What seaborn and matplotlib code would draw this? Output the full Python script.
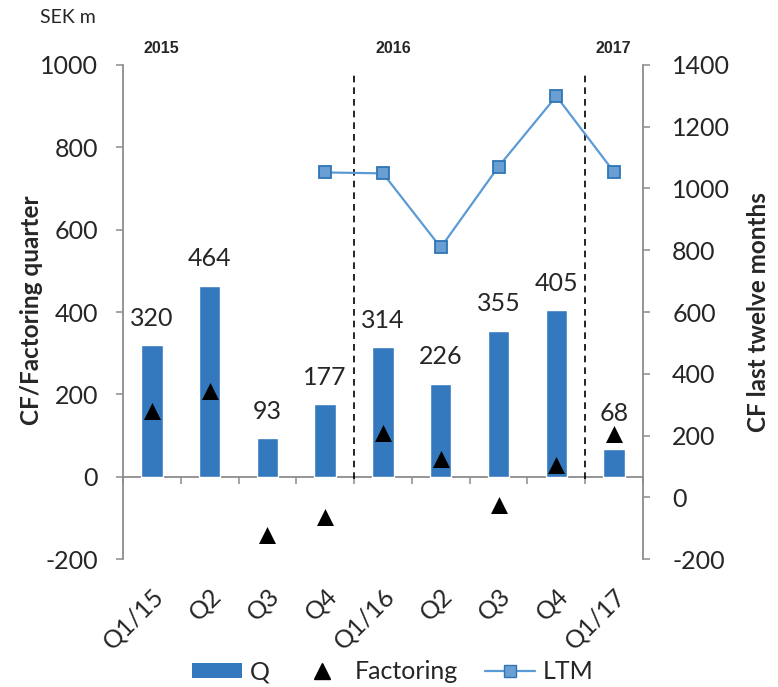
import matplotlib
matplotlib.use("Agg")
import matplotlib.pyplot as plt
from matplotlib.patches import Patch
from matplotlib.lines import Line2D
from matplotlib.transforms import ScaledTranslation
import seaborn as sns
import pandas as pd
import numpy as np

quarters = ["Q1/15", "Q2", "Q3", "Q4", "Q1/16", "Q2", "Q3", "Q4", "Q1/17"]
cf_quarter = [320, 464, 93, 177, 314, 226, 355, 405, 68]
factoring = [160, 209, -141, -97, 107, 44, -68, 29, 104]
ltm = [np.nan, np.nan, np.nan, 1052, 1049, 809, 1071, 1299, 1053]
years = ["2015", "2016", "2017"]
year_breaks = [3.5, 7.5]

df = pd.DataFrame({"pos": range(len(quarters)), "q": cf_quarter,
                   "factoring": factoring, "ltm": ltm})

sns.set_style("white")
plt.rcParams["font.family"] = ["Lato", "DejaVu Sans"]
plt.rcParams["axes.unicode_minus"] = False

BAR = "#3479BE"
GRAY = "#8C8C8C"

fig = plt.figure(figsize=(7.78, 6.87), dpi=100)
ax = fig.add_axes([0.158, 0.1863, 0.6685, 0.7191])

sns.barplot(x="pos", y="q", data=df, color=BAR, width=0.37, saturation=1, ax=ax)
labels = ax.bar_label(ax.containers[0], fontsize=18, padding=11)
labels[-1].xyann = (0, 17)  # the 68 label sits higher, clear of the triangle
sns.scatterplot(x="pos", y="factoring", data=df, marker="^", s=150,
                color="black", edgecolor="black", linewidth=0, zorder=5, ax=ax)

ax.set_ylim(-200, 1000)
ax.set_yticks(range(-200, 1001, 200))
ax.set_xlim(-0.5, 8.5)
ax.set_xticks(range(len(quarters)))
ax.set_xticklabels(quarters, rotation=45, ha="right", rotation_mode="anchor")
shift = ScaledTranslation(8 / 100, 0, fig.dpi_scale_trans)
for lab in ax.get_xticklabels():
    lab.set_transform(lab.get_transform() + shift)
ax.tick_params(axis="x", length=0, pad=18, labelsize=18)
ax.tick_params(axis="y", length=5, width=1.1, color=GRAY, pad=13, labelsize=18)
ax.set_xlabel("")
ax.set_ylabel("")
for s in ["top", "right", "bottom"]:
    ax.spines[s].set_visible(False)
ax.spines["left"].set_color(GRAY)
ax.spines["left"].set_linewidth(1.3)

# zero line with category ticks
zero = ax.secondary_xaxis(200 / 1200)
zero.set_xticks(np.arange(-0.5, 9, 1))
zero.set_xticklabels([])
zero.tick_params(length=5, width=1.1, color=GRAY)
zero.spines["bottom"].set_color(GRAY)
zero.spines["bottom"].set_linewidth(1.3)

ax.vlines(year_breaks, -5, 985, colors="black", linestyles=(0, (4, 3)), linewidth=1.2)

ax2 = ax.twinx()
sns.lineplot(x="pos", y="ltm", data=df, ax=ax2, color="#5B9BD5", linewidth=1.6,
             marker="s", markersize=9, markerfacecolor="#6A9FD4",
             markeredgecolor="#2E75B6", markeredgewidth=1.3)
ax2.set_xlim(-0.5, 8.5)
ax2.set_ylim(-200, 1400)
ax2.set_yticks(range(-200, 1401, 200))
ax2.tick_params(axis="y", length=5, width=1.1, color=GRAY, pad=16, labelsize=18)
ax2.set_ylabel("")
for s in ["top", "left", "bottom"]:
    ax2.spines[s].set_visible(False)
ax2.spines["right"].set_color(GRAY)
ax2.spines["right"].set_linewidth(1.3)

fig.text(0.041, 0.549, "CF/Factoring quarter", rotation=90, ha="center",
         va="center", fontsize=17.5, fontweight="bold")
fig.text(0.975, 0.546, "CF last twelve months", rotation=90, ha="center",
         va="center", fontsize=17.5, fontweight="bold")
fig.text(0.051, 0.975, "SEK m", ha="left", va="center", fontsize=14)
for x, yr in zip([0.208, 0.505, 0.788], years):
    fig.text(x, 0.929, yr, ha="center", va="center", fontsize=11.5,
             fontweight="bold", family="Liberation Sans")

handles = [
    Patch(facecolor=BAR, edgecolor="none"),
    Line2D([], [], marker="^", color="black", linestyle="none", markersize=11),
    Line2D([], [], color="#5B9BD5", linewidth=1.6, marker="s", markersize=9,
           markerfacecolor="#6A9FD4", markeredgecolor="#2E75B6"),
]
fig.legend(handles, ["Q", "Factoring", "LTM"], loc="center", ncol=3,
           bbox_to_anchor=(0.505, 0.022), frameon=False, fontsize=18,
           handlelength=2, handleheight=0.55, handletextpad=0.3,
           columnspacing=1.1)

fig.savefig("out.png", dpi=100)
